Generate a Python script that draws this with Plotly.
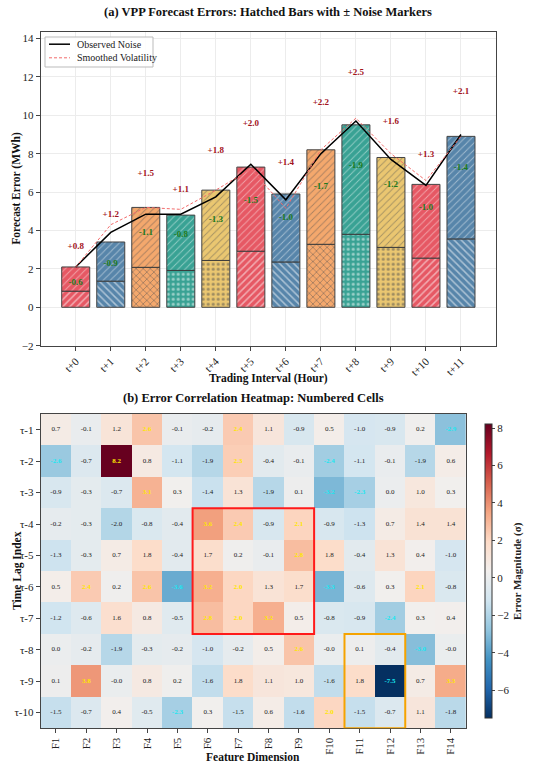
import plotly.graph_objects as go

# ---------------- data: panel (a) ----------------
intervals = ["t+0", "t+1", "t+2", "t+3", "t+4", "t+5", "t+6", "t+7", "t+8", "t+9", "t+10", "t+11"]
forecast_error = [2.1, 3.4, 5.2, 4.8, 6.1, 7.3, 5.9, 8.2, 9.5, 7.8, 6.4, 8.9]
lower_part = [0.84, 1.36, 2.08, 1.92, 2.44, 2.92, 2.36, 3.28, 3.80, 3.12, 2.56, 3.56]
noise_plus = [0.8, 1.2, 1.5, 1.1, 1.8, 2.0, 1.4, 2.2, 2.5, 1.6, 1.3, 2.1]
noise_minus = [0.6, 0.9, 1.1, 0.8, 1.3, 1.5, 1.0, 1.7, 1.9, 1.2, 1.0, 1.4]
observed_noise = [2.1, 3.9, 4.85, 4.85, 5.75, 7.45, 5.6, 8.0, 9.7, 7.7, 6.35, 9.0]
smoothed_vol = [2.1, 4.3, 5.2, 5.1, 6.1, 7.2, 5.15, 8.2, 9.85, 8.0, 6.6, 8.9]

palette = ["#e5505c", "#4f7fa6", "#f4a466", "#2f9e8f", "#e9c46a"]
lower_hatch = ["/", "\\", "x", ".", "."]

# ---------------- data: panel (b) ----------------
features = ["F1", "F2", "F3", "F4", "F5", "F6", "F7", "F8", "F9", "F10", "F11", "F12", "F13", "F14"]
lags = ["τ-1", "τ-2", "τ-3", "τ-4", "τ-5", "τ-6", "τ-7", "τ-8", "τ-9", "τ-10"]
lag_1 = [0.7, -0.1, 1.2, 2.6, -0.1, -0.2, 2.4, 1.1, -0.9, 0.5, -1.0, -0.9, 0.2, -2.9]
lag_2 = [-2.6, -0.7, 8.2, 0.8, -1.1, -1.9, 2.3, -0.4, -0.1, -2.4, -1.1, -0.1, -1.9, 0.6]
lag_3 = [-0.9, -0.3, -0.7, 3.1, 0.3, -1.4, 1.3, -1.9, 0.1, -3.2, -2.3, 0.0, 1.0, 0.3]
lag_4 = [-0.2, -0.3, -1.97, -0.8, -0.4, 3.6, 2.4, -0.9, 2.1, -0.9, -1.3, 0.7, 1.4, 1.4]
lag_5 = [-1.3, -0.3, 0.7, 1.8, -0.4, 1.7, 0.2, -0.1, 2.8, 1.8, -0.4, 1.3, 0.4, -1.0]
lag_6 = [0.5, 2.4, 0.2, 2.6, -3.6, 3.2, 2.04, 1.3, 1.7, -3.3, -0.6, 0.3, 2.1, -0.8]
lag_7 = [-1.2, -0.6, 1.6, 0.8, -0.5, 2.8, 2.04, 3.2, 0.5, -0.8, -0.9, -2.4, 0.3, 0.4]
lag_8 = [0.0, -0.2, -1.9, -0.3, -0.2, -1.0, -0.2, 0.5, 2.6, -0.04, 0.1, -0.4, -3.0, -0.01]
lag_9 = [0.1, 3.8, -0.02, 0.8, 0.2, -1.6, 1.8, 1.1, 1.0, -1.6, 1.8, -7.5, 0.7, 3.3]
lag_10 = [-1.5, -0.7, 0.4, -0.5, -2.3, 0.3, -1.5, 0.6, -1.6, 2.04, -1.5, -0.7, 1.1, -1.8]
matrix = [lag_1, lag_2, lag_3, lag_4, lag_5, lag_6, lag_7, lag_8, lag_9, lag_10]

series_names = ["Observed Noise", "Smoothed Volatility"]

FONT = "Liberation Serif"
W, H = 550, 767


def px_x(p):
    return p / W


def px_y(p):
    return 1 - p / H


fig = go.Figure()

# ---------------- panel (a) bars ----------------
n = len(intervals)
xs = list(range(n))
colors = [palette[i % 5] for i in xs]
upper_part = [h - l for h, l in zip(forecast_error, lower_part)]

fig.add_trace(go.Bar(
    x=xs, y=lower_part, base=[0] * n, width=0.8,
    marker=dict(color=colors, opacity=0.95,
                line=dict(color="#3a3a3a", width=1),
                pattern=dict(shape=[lower_hatch[i % 5] for i in xs], fillmode="overlay",
                             fgcolor="#2a2a2a", fgopacity=0.5, size=5, solidity=0.3)),
    showlegend=False, hoverinfo="skip", xaxis="x", yaxis="y"))
fig.add_trace(go.Bar(
    x=xs, y=upper_part, base=lower_part, width=0.8,
    marker=dict(color=colors, opacity=0.95,
                line=dict(color="#3a3a3a", width=1),
                pattern=dict(shape="/", fillmode="overlay", fgcolor="#2a2a2a",
                             fgopacity=0.45, size=5, solidity=0.18)),
    showlegend=False, hoverinfo="skip", xaxis="x", yaxis="y"))

line_styles = [dict(color="black", width=1.5), dict(color="#f26b6b", width=1, dash="3px,2px")]
fig.add_trace(go.Scatter(x=xs, y=observed_noise, mode="lines", name=series_names[0],
                         line=line_styles[0], showlegend=False, xaxis="x", yaxis="y"))
fig.add_trace(go.Scatter(x=xs, y=smoothed_vol, mode="lines", name=series_names[1],
                         line=line_styles[1], showlegend=False, xaxis="x", yaxis="y"))

fig.add_trace(go.Scatter(
    x=xs, y=[h + p for h, p in zip(forecast_error, noise_plus)], mode="text",
    text=[f"<b>+{p:.1f}</b>" for p in noise_plus], textposition="top center",
    textfont=dict(family=FONT, size=9, color="#a3141c"),
    showlegend=False, hoverinfo="skip", xaxis="x", yaxis="y"))
fig.add_trace(go.Scatter(
    x=xs, y=[h - m for h, m in zip(forecast_error, noise_minus)], mode="text",
    text=[f"<b>-{m:.1f}</b>" for m in noise_minus], textposition="bottom center",
    textfont=dict(family=FONT, size=9, color="#1d7a1d"),
    showlegend=False, hoverinfo="skip", xaxis="x", yaxis="y"))

# ---------------- panel (b) heatmap ----------------
RdBu_r = [
    [0.0, "#053061"], [0.1, "#2166ac"], [0.2, "#4393c3"], [0.3, "#92c5de"],
    [0.4, "#d1e5f0"], [0.5, "#f2efed"], [0.6, "#fddbc7"], [0.7, "#f4a582"],
    [0.8, "#d6604d"], [0.9, "#b2182b"], [1.0, "#67001f"],
]
flat = [v for row in matrix for v in row]
hm_top, hm_bot = px_y(414), px_y(728.3)
fig.add_trace(go.Heatmap(
    z=matrix, x=list(range(len(features))), y=list(range(len(lags))),
    colorscale=RdBu_r, zmin=min(flat), zmax=max(flat),
    xaxis="x2", yaxis="y2", hoverinfo="skip",
    colorbar=dict(x=px_x(475), xanchor="left", y=hm_bot, yanchor="bottom", len=hm_top - hm_bot,
                  lenmode="fraction", thickness=7, outlinewidth=1, outlinecolor="#333",
                  tickvals=[-6, -4, -2, 0, 2, 4, 6, 8], ticks="outside", ticklen=3,
                  tickfont=dict(family=FONT, size=11, color="#222"),
                  title=dict(text="<b>Error Magnitude (σ)</b>", side="right",
                             font=dict(family=FONT, size=11, color="#222")))))

cx, cy, ctext, ccol = [], [], [], []
for r, row in enumerate(matrix):
    for c, v in enumerate(row):
        cx.append(c)
        cy.append(r)
        s = f"{v:.1f}"
        if v > 2:
            ctext.append(f"<b>{s}</b>"); ccol.append("#ffe600")
        elif v < -2:
            ctext.append(f"<b>{s}</b>"); ccol.append("#19e6f0")
        else:
            ctext.append(s); ccol.append("#222222")
fig.add_trace(go.Scatter(x=cx, y=cy, mode="text", text=ctext,
                         textfont=dict(family=FONT, size=7, color=ccol),
                         showlegend=False, hoverinfo="skip", xaxis="x2", yaxis="y2"))

fig.add_shape(type="rect", xref="x2", yref="y2", x0=4.5, x1=8.5, y0=2.5, y1=6.5,
              line=dict(color="#ff1a1a", width=2))
fig.add_shape(type="rect", xref="x2", yref="y2", x0=9.5, x1=11.5, y0=6.5, y1=9.5,
              line=dict(color="#f5a300", width=2))

# ---------------- compact legend box (panel a) ----------------
fig.add_shape(type="rect", xref="paper", yref="paper",
              x0=px_x(45), x1=px_x(153), y0=px_y(67), y1=px_y(37),
              line=dict(color="#bbbbbb", width=1), fillcolor="rgba(255,255,255,0.9)")
legend_rows = [44.2, 57.8]
annotations = []
for name, style, yy in zip(series_names, line_styles, legend_rows):
    fig.add_shape(type="line", xref="paper", yref="paper",
                  x0=px_x(49), x1=px_x(70), y0=px_y(yy), y1=px_y(yy), line=style)
    annotations.append(dict(text=name, x=px_x(75), y=px_y(yy), xref="paper", yref="paper",
                            xanchor="left", yanchor="middle", showarrow=False,
                            font=dict(family=FONT, size=10, color="#222")))

axis_common = dict(showline=True, mirror=True, linecolor="#444", linewidth=1,
                   ticks="outside", ticklen=4, tickcolor="#444", automargin=False,
                   tickfont=dict(family=FONT, size=11, color="#222"))


def label(text, x, y, size, angle=0):
    return dict(text=text, x=px_x(x), y=px_y(y), xref="paper", yref="paper",
                xanchor="center", yanchor="middle", showarrow=False, textangle=angle,
                font=dict(family=FONT, size=size, color="#111"))


annotations += [
    label("<b>(a) VPP Forecast Errors: Hatched Bars with ± Noise Markers</b>", 268, 11.5, 12.5),
    label("<b>Trading Interval (Hour)</b>", 268, 378, 11.5),
    label("<b>Forecast Error (MWh)</b>", 17, 188.7, 11.5, -90),
    label("<b>(b) Error Correlation Heatmap: Numbered Cells</b>", 253, 398, 12.5),
    label("<b>Feature Dimension</b>", 253, 757, 11.5),
    label("<b>Time Lag Index</b>", 17, 571, 11.5, -90),
]

fig.update_layout(
    width=W, height=H, margin=dict(l=0, r=0, t=0, b=0, autoexpand=False),
    paper_bgcolor="white", plot_bgcolor="white",
    font=dict(family=FONT, color="#222"),
    barmode="overlay", showlegend=False, hovermode=False,
    xaxis=dict(domain=[px_x(40.7), px_x(496)], anchor="y", range=[-1, 12],
               tickvals=xs, ticktext=intervals, tickangle=-45,
               showgrid=True, gridcolor="#ececec", gridwidth=1, zeroline=False, **axis_common),
    yaxis=dict(domain=[px_y(345.7), px_y(31.7)], anchor="x", range=[-2, 14.35],
               tickvals=[-2, 0, 2, 4, 6, 8, 10, 12, 14],
               showgrid=True, gridcolor="#ececec", gridwidth=1, zeroline=False, **axis_common),
    xaxis2=dict(domain=[px_x(40.7), px_x(466)], anchor="y2", range=[-0.5, 13.5],
                tickvals=list(range(len(features))), ticktext=features, tickangle=-90,
                showgrid=False, zeroline=False, **axis_common),
    yaxis2=dict(domain=[hm_bot, hm_top], anchor="x2", range=[9.5, -0.5],
                tickvals=list(range(len(lags))), ticktext=lags,
                showgrid=False, zeroline=False, **axis_common),
    annotations=annotations,
)

# remove the browser's default 8px page margin so the figure sits at the window's corner
fig.write_html("out.html", config={"displayModeBar": False},
               post_script="document.body.style.margin='0';")
